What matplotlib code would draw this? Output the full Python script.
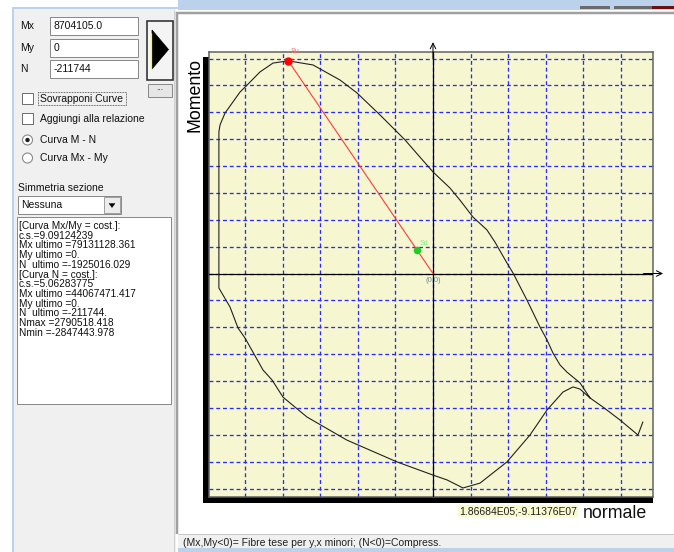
import matplotlib
matplotlib.use("Agg")
import matplotlib.pyplot as plt
from matplotlib.patches import Rectangle, Polygon, Circle

plt.rcParams['font.family'] = ['Liberation Sans', 'DejaVu Sans']

# ---------------- data ----------------
curve_N = [2790518, 2726000, 2487000, 2261000, 2088000, 1955000, 1782000, 1689000,
           1596000, 1516000, 1423000, 1250000, 1064000, 984000, 824000, 718000,
           532000, 359000, 226000, 0, -173000, -372000, -572000, -705000,
           -1011000, -1237000, -1596000, -1925016, -2128000, -2301000, -2473000,
           -2567000, -2766000, -2832000, -2847444, -2847444, -2699000, -2593000,
           -2500000, -2261000, -2141000, -1995000, -1676000, -1144000, -479000,
           0, 186000, 399000, 625000, 984000, 1290000, 1516000, 1729000, 1862000,
           1955000, 2088000]
curve_M_mil = [-55.3, -60.1, -54.5, -49.7, -46.3, -40.7, -36.7, -34.0, -29.6, -24.7,
               -19.9, -9.9, 0.2, 3.9, 11.7, 16.2, 21.0, 27.3, 31.8, 37.8, 43.3, 49.7,
               55.3, 59.0, 67.2, 72.0, 77.6, 79.131128, 78.3, 75.0, 70.1, 67.5, 59.7,
               55.3, 52.7, -5.4, -12.5, -20.3, -24.0, -35.9, -39.6, -46.0, -53.4,
               -62.0, -70.1, -75.0, -76.8, -79.8, -78.0, -70.1, -60.1, -50.8, -44.1,
               -42.2, -43.0, -46.3]
Su_N, Su_M = -1925016.029, 79131128.361
Sd_N, Sd_M = -211744.0, 8704105.0

input_labels = ["Mx", "My", "N"]
input_values = ["8704105.0", "0", "-211744"]
list_lines = ["[Curva Mx/My = cost.]:", "c.s.=9.09124239", "Mx ultimo =79131128.361",
              "My ultimo =0.", "N  ultimo =-1925016.029", "[Curva N = cost.]:",
              "c.s.=5.06283775", "Mx ultimo =44067471.417", "My ultimo =0.",
              "N  ultimo =-211744.", "Nmax =2790518.418", "Nmin =-2847443.978"]

W, H = 674, 552
fig = plt.figure(figsize=(W / 100, H / 100), dpi=100)
fig.patch.set_facecolor('white')
ui = fig.add_axes([0, 0, 1, 1])
ui.set_xlim(0, W)
ui.set_ylim(H, 0)
ui.axis('off')

PX = 0.72  # points per pixel


def rect(x, y, w, h, fc='none', ec='none', lw=1.0, ls='-', z=1):
    ui.add_patch(Rectangle((x, y), w, h, facecolor=fc, edgecolor=ec,
                           linewidth=lw * PX, linestyle=ls, zorder=z))


def hline(x0, x1, y, c, lw=1.0, z=2):
    ui.plot([x0, x1], [y, y], color=c, lw=lw * PX, zorder=z, solid_capstyle='butt')


def vline(x, y0, y1, c, lw=1.0, z=2):
    ui.plot([x, x], [y0, y1], color=c, lw=lw * PX, zorder=z, solid_capstyle='butt')


LB = '#bcd2ec'
# window chrome
rect(178, 0, 496, 10, fc=LB, z=0)
rect(580, 6, 30, 3, fc='#6a6a6a', z=1)
rect(614, 6, 38, 3, fc='#6a6a6a', z=1)
rect(652, 6, 22, 3, fc='#6a1010', z=1)
rect(14, 9, 162, 543, fc='#f0f0f0', z=0)
vline(12.5, 8, 552, LB, lw=2)
hline(12, 178, 8, LB, lw=2)
# plot panel (white)
rect(178, 14, 496, 519, fc='white', z=0)
hline(176, 674, 12.5, '#a0a0a0', lw=2.5)
vline(177, 12, 534, '#a0a0a0', lw=2.5)
vline(174, 10, 552, '#d0d0d0', lw=1)
# status bar
rect(178, 534, 496, 14, fc='#f0f0f0', z=0)
hline(178, 674, 534, '#c8c8c8', lw=1)
rect(178, 548, 496, 4, fc=LB, z=0)
ui.text(183, 543, "(Mx,My<0)= Fibre tese per y,x minori; (N<0)=Compress.",
        fontsize=7.5, va='center', ha='left', color='#202020')

# left panel controls
FS = 7.5
rows_y = [26, 48, 69]
for lab, val, yy in zip(input_labels, input_values, rows_y):
    ui.text(20, yy, lab, fontsize=FS, va='center', ha='left', color='#101010')
    rect(50, yy - 9, 88, 18, fc='white', ec='#8a8a8a', lw=1)
    ui.text(54, yy, val, fontsize=FS, va='center', ha='left', color='#101010')

# big arrow button
rect(146.5, 21, 26, 59, fc='#f4f4f4', ec='#303030', lw=1.6, z=2)
ui.add_patch(Polygon([(152, 30), (152, 69), (168.5, 49.5)], closed=True,
                     facecolor='black', edgecolor='black', lw=0.5, zorder=3))
vline(151, 33, 69, '#ffff00', lw=1.3, z=4)
# small button
rect(148, 84, 24, 13, fc='#e6e6e6', ec='#8a8a8a', lw=1, z=2)
ui.text(160, 89, "...", fontsize=6, va='center', ha='center', color='#202020')

# checkboxes
for yy, lab in [(98.5, "Sovrapponi Curve"), (118.5, "Aggiungi alla relazione")]:
    rect(22, yy - 5.5, 11, 11, fc='white', ec='#707070', lw=1, z=2)
    ui.text(40, yy, lab, fontsize=FS, va='center', ha='left', color='#101010')
rect(38, 92, 88, 13, fc='none', ec='#303030', lw=0.8, ls=(0, (1, 1)), z=3)

# radio buttons
for yy, lab, sel in [(140, "Curva M - N", True), (158, "Curva Mx - My", False)]:
    ui.add_patch(Circle((27.5, yy), 5, facecolor='white', edgecolor='#8a8a8a',
                        lw=0.8, zorder=2))
    if sel:
        ui.add_patch(Circle((27.5, yy), 2.2, facecolor='#202020', edgecolor='none',
                            zorder=3))
    ui.text(40, yy, lab, fontsize=FS, va='center', ha='left', color='#101010')

ui.text(18, 188, "Simmetria sezione", fontsize=FS, va='center', ha='left', color='#101010')
rect(18, 196, 103, 18, fc='white', ec='#8a8a8a', lw=1, z=2)
ui.text(21, 205, "Nessuna", fontsize=FS, va='center', ha='left', color='#101010')
rect(104, 197, 16, 16, fc='#ececec', ec='#a0a0a0', lw=1, z=3)
ui.add_patch(Polygon([(109, 203.5), (115, 203.5), (112, 207.5)], closed=True,
                     facecolor='black', edgecolor='black', lw=0.3, zorder=4))

# list box
rect(17, 217, 154, 187, fc='white', ec='#8a8a8a', lw=1, z=2)
for i, line in enumerate(list_lines):
    ui.text(19, 226 + 9.7 * i, line, fontsize=7.3, va='center', ha='left',
            color='#101010', zorder=3)

# shadow of the plot frame
rect(203, 57, 6, 446, fc='black', z=1)
rect(203, 497, 450, 6, fc='black', z=1)

# axis titles and readout
ui.text(195, 95, "Momento", fontsize=12.8, rotation=90, va='center', ha='center',
        color='black')
ui.text(583, 513, "normale", fontsize=12.8, va='center', ha='left', color='#101010')
ui.text(459, 511, "1.86684E05;-9.11376E07", fontsize=7.5, va='center', ha='left',
        color='#202020', bbox=dict(boxstyle='square,pad=0.1', fc='#fafad0', ec='none'),
        zorder=5)

# ---------------- plot ----------------
L, T, R, B = 209, 52, 653, 497
ax = fig.add_axes([L / W, 1 - B / H, (R - L) / W, (B - T) / H])
ax.set_facecolor('#f6f6d0')
xlim = (-2.979e6, 2.926e6)
ylim = (-83.16e6, 82.42e6)
ax.set_xlim(*xlim)
ax.set_ylim(*ylim)
ax.set_xticks([k * 5e5 for k in range(-5, 6)])
ax.set_yticks([k * 1e7 for k in range(-8, 9)])
ax.tick_params(length=0, labelbottom=False, labelleft=False)
ax.grid(True, color='#2a2aff', linestyle=(0, (3, 2.2)), linewidth=1.0 * PX * 1.3)
for s in ax.spines.values():
    s.set_color('#606060')
    s.set_linewidth(1.5 * PX)

ax.axhline(0, color='black', lw=1.2 * PX, zorder=3)
ax.axvline(0, color='black', lw=1.2 * PX, zorder=3)
# arrow heads beyond the frame
ax.annotate('', xy=(0, 86.1e6), xytext=(0, 80e6),
            arrowprops=dict(arrowstyle='->', color='black', lw=1.0 * PX,
                            shrinkA=0, shrinkB=0, mutation_scale=10),
            annotation_clip=False)
ax.annotate('', xy=(3.06e6, 0), xytext=(2.8e6, 0),
            arrowprops=dict(arrowstyle='->', color='black', lw=1.0 * PX,
                            shrinkA=0, shrinkB=0, mutation_scale=10),
            annotation_clip=False)

curve_M = [m * 1e6 for m in curve_M_mil]
ax.plot(curve_N, curve_M, color='#202020', lw=1.1 * PX, zorder=4)
ax.plot([0, Su_N], [0, Su_M], color='#ff3a3a', lw=1.1 * PX, zorder=5)
ax.plot([Su_N], [Su_M], 'o', color='#ff0000', ms=6, mec='none', zorder=6, clip_on=False)
ax.plot([Sd_N], [Sd_M], 'o', color='#22cc22', ms=5.5, mec='none', zorder=6)
ax.annotate("Su", (Su_N, Su_M), xytext=(2, 6), textcoords='offset points',
            fontsize=5, color='#ff7070', annotation_clip=False)
ax.annotate("Sd", (Sd_N, Sd_M), xytext=(2, 4), textcoords='offset points',
            fontsize=5, color='#80ee80')
ax.annotate("(0,0)", (0, 0), xytext=(0, -5), textcoords='offset points',
            fontsize=5.5, color='#6a86a0', ha='center', va='center')

fig.savefig("out.png", dpi=100)
